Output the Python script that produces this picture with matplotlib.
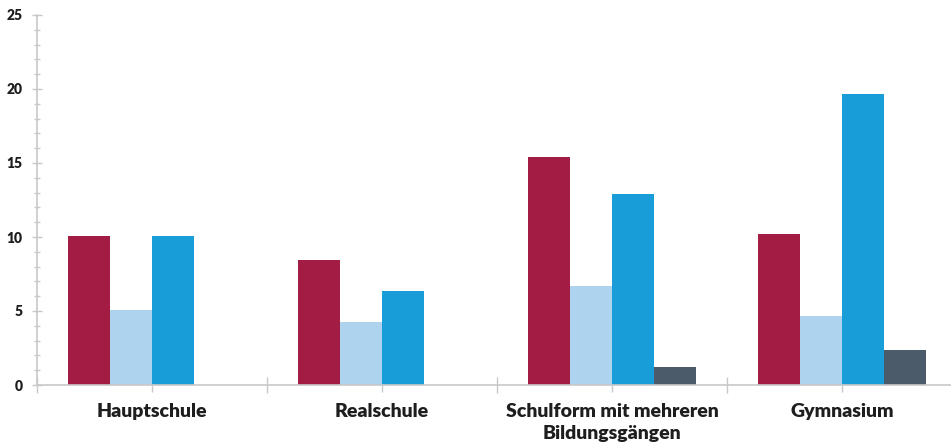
import matplotlib.pyplot as plt
import numpy as np
from matplotlib.ticker import FixedLocator, MultipleLocator

plt.rcParams['font.family'] = ['Lato', 'DejaVu Sans']

categories = ["Hauptschule", "Realschule", "Schulform mit mehreren\nBildungsgängen", "Gymnasium"]
series_a = [10.1, 8.45, 15.4, 10.2]
series_b = [5.05, 4.25, 6.7, 4.65]
series_c = [10.1, 6.35, 12.9, 19.65]
series_d = [0.0, 0.0, 1.2, 2.35]

colors = ["#A31C44", "#AED3EE", "#189DD8", "#4B5B6A"]
axis_grey = "#C8C8C8"


def main() -> None:
    fig = plt.figure(figsize=(9.51, 4.48), dpi=100)
    ax = fig.add_axes([37 / 951, 63 / 448, 1 - 37 / 951, 370 / 448])

    x = np.arange(len(categories))
    w = 0.183
    for i, vals in enumerate([series_a, series_b, series_c, series_d]):
        ax.bar(x + (i - 1.5) * w, vals, width=w, color=colors[i], linewidth=0)

    ax.set_xlim(-0.5, 3.474)
    ax.set_ylim(0, 25)

    for s in ["top", "right"]:
        ax.spines[s].set_visible(False)
    for s in ["left", "bottom"]:
        ax.spines[s].set_color(axis_grey)
        ax.spines[s].set_linewidth(1.2)

    ax.yaxis.set_major_locator(MultipleLocator(5))
    ax.yaxis.set_minor_locator(MultipleLocator(1))
    ax.tick_params(axis="y", which="major", direction="inout", length=7,
                   width=1, color=axis_grey, labelsize=10, pad=7,
                   labelcolor="#1E1E1E")
    ax.tick_params(axis="y", which="minor", direction="inout", length=5,
                   width=1, color=axis_grey)
    for lbl in ax.get_yticklabels():
        lbl.set_fontweight("heavy")

    ax.set_xticks(x)
    ax.set_xticklabels(categories, fontsize=14, fontweight="heavy",
                       color="#1E1E1E", linespacing=1.35)
    ax.xaxis.set_minor_locator(FixedLocator(np.arange(-0.5, 4.0, 1.0)))
    ax.tick_params(axis="x", which="major", direction="out", length=5,
                   width=1, color=axis_grey, pad=8)
    ax.tick_params(axis="x", which="minor", direction="inout", length=11,
                   width=1, color=axis_grey)

    fig.savefig("out.png", dpi=100)
    plt.close(fig)


if __name__ == "__main__":
    main()
